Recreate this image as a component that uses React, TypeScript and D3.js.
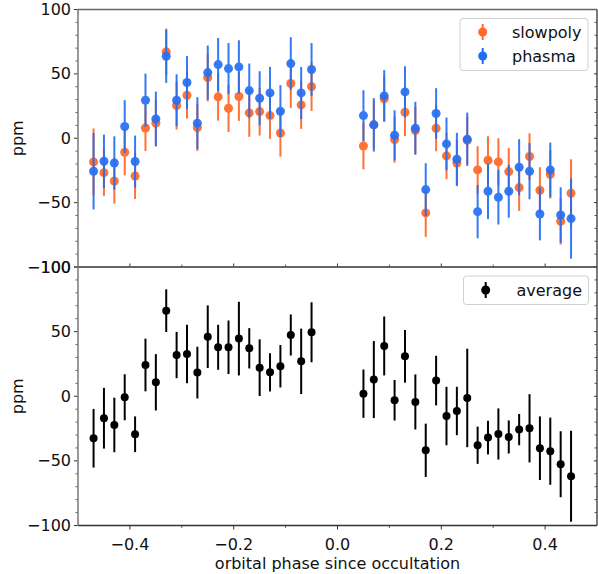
import React from 'react';
import * as d3 from 'd3';

// orbital phase of each bin
const phase = [
  -0.47, -0.45, -0.43, -0.41, -0.39, -0.37, -0.35, -0.33, -0.31, -0.29, -0.27,
  -0.25, -0.23, -0.21, -0.19, -0.17, -0.15, -0.13, -0.11, -0.09, -0.07, -0.05,
  0.05, 0.07, 0.09, 0.11, 0.13, 0.15, 0.17, 0.19, 0.21, 0.23, 0.25, 0.27, 0.29,
  0.31, 0.33, 0.35, 0.37, 0.39, 0.41, 0.43, 0.45,
];

const slowpoly = [
  -18.4, -26.7, -33.2, -10.9, -29.3, 8.0, 11.7, 67.1, 25.4, 33.4, 8.3, 47.1,
  32.1, 23.3, 32.4, 19.7, 20.7, 17.6, 4.1, 42.5, 25.9, 40.1,
  -6.0, 10.4, 30.6, -1.0, 20.2, 6.0, -58.0, 7.8, -13.7, -19.2, -1.6, -24.6,
  -17.1, -18.4, -25.9, -38.3, -14.2, -40.4, -28.0, -64.5, -42.7,
];
const slowpolyErr = [
  26, 18, 17.6, 17.9, 17.9, 17.9, 18, 18.1, 18.6, 18.1, 18.1, 18.4, 18.4, 18.4,
  18.9, 18.6, 18.6, 18.1, 18.4, 18.9, 18.6, 18.9,
  18.1, 18.5, 17.6, 17.9, 18.4, 18.5, 18.6, 17.9, 18.1, 18, 18.5, 18.4, 18.6,
  18.4, 18.4, 18.1, 18.1, 17.9, 18.9, 18.1, 26.4,
];

const phasma = [
  -25.6, -17.9, -19.2, 9.1, -18.1, 29.5, 15.0, 63.7, 29.5, 43.3, 11.7, 51.0,
  57.2, 54.1, 55.4, 37.0, 31.1, 35.2, 21.0, 58.0, 35.2, 53.4,
  17.6, 10.4, 32.9, 2.3, 36.0, 7.8, -39.9, 19.2, -4.4, -16.3, -0.8, -57.0,
  -41.2, -45.8, -41.2, -22.5, -25.6, -58.8, -24.6, -59.6, -62.4,
];
const phasmaErr = [
  29.7, 20.7, 20.7, 20.5, 20.2, 20.7, 21.2, 20.7, 20.2, 20.5, 20.2, 21, 20.7,
  19.9, 20.7, 21, 21, 20.2, 20.2, 20.5, 20.2, 20.5,
  19.7, 20.7, 20, 19.4, 19.9, 20.5, 20.5, 19.7, 20.5, 20.5, 20.7, 20.7, 21.5,
  21.2, 20.5, 21.8, 21.8, 20.5, 21.2, 21.5, 31.1,
];

const average = [
  -32.5, -17.0, -22.2, -0.8, -29.4, 24.2, 10.8, 66.2, 31.9, 32.7, 18.3, 46.1,
  37.9, 37.9, 44.6, 37.1, 22.1, 18.5, 23.2, 47.4, 27.0, 49.5,
  2.0, 12.9, 38.9, -3.1, 30.9, -4.4, -41.8, 12.1, -15.3, -11.4, -1.3, -37.9,
  -32.0, -29.2, -31.5, -25.8, -24.8, -40.2, -42.5, -52.6, -61.9,
];
const averageErr = [
  22.7, 23.5, 21.1, 17.8, 13.8, 20.4, 21.8, 16.5, 17.9, 22.6, 20, 24.2, 17.4,
  20.7, 28.5, 15.6, 21.9, 14.8, 16.4, 15.9, 25.3, 23.2,
  18.7, 29.8, 22.8, 15.7, 20.4, 21.3, 20.6, 19.2, 22.6, 18.7, 38.1, 14.4, 13.0,
  19.8, 12.8, 12.1, 26.4, 24.6, 26.0, 25.5, 35.2,
];

const xTicks = [-0.4, -0.2, 0.0, 0.2, 0.4];
const xMinor = [-0.3, -0.1, 0.1, 0.3];
const yTicks = [-100, -50, 0, 50, 100];
const yMinor = [-90, -80, -70, -60, -40, -30, -20, -10, 10, 20, 30, 40, 60, 70, 80, 90];

const W = 598;
const H = 574;
const left = 78;
const right = 597;
const font = 'DejaVu Sans, sans-serif';
const FS = 16;
const ORANGE = '#ff6a2a';
const BLUE = '#1f6cf5';

const x = d3.scaleLinear().domain([-0.5, 0.5]).range([left, right]);
const yTop = d3.scaleLinear().domain([-100, 100]).range([267, 9.5]);
const yBot = d3.scaleLinear().domain([-100, 100]).range([525.5, 267]);

const fmtY = (v: number) => (v < 0 ? '\u2212' + Math.abs(v) : String(v));
const fmtX = (v: number) => (v < 0 ? '\u2212' + Math.abs(v).toFixed(1) : v.toFixed(1));

function ErrorSeries({ y, vals, errs, color, r, opacity }: any) {
  return (
    <g opacity={opacity}>
      {vals.map((v: number, i: number) => (
        <g key={i}>
          <line
            x1={x(phase[i])}
            x2={x(phase[i])}
            y1={y(v - errs[i])}
            y2={y(v + errs[i])}
            stroke={color}
            strokeWidth={2}
          />
          <circle cx={x(phase[i])} cy={y(v)} r={r} fill={color} />
        </g>
      ))}
    </g>
  );
}

function Panel({ y, bottom }: any) {
  const [y0, y1] = y.range();
  return (
    <g>
      {/* y ticks left (outward) and right (inward) */}
      {yTicks.map((t) => (
        <g key={'yt' + t}>
          <line x1={left - 4} x2={left} y1={y(t)} y2={y(t)} stroke="#333" strokeWidth={1} />
          <line x1={right - 3} x2={right} y1={y(t)} y2={y(t)} stroke="#333" strokeWidth={1} />
          <text
            x={left - 7}
            y={y(t)}
            textAnchor="end"
            dominantBaseline="central"
            fontFamily={font}
            fontSize={FS}
            fill="#111"
          >
            {fmtY(t)}
          </text>
        </g>
      ))}
      {yMinor.map((t) => (
        <g key={'ym' + t}>
          <line x1={left - 2.5} x2={left} y1={y(t)} y2={y(t)} stroke="#333" strokeWidth={0.8} />
          <line x1={right - 2.5} x2={right} y1={y(t)} y2={y(t)} stroke="#333" strokeWidth={0.8} />
        </g>
      ))}
      {/* x ticks */}
      {xTicks.map((t) =>
        bottom ? (
          <g key={'xt' + t}>
            <line x1={x(t)} x2={x(t)} y1={y0} y2={y0 + 4} stroke="#333" strokeWidth={1} />
            <text
              x={x(t)}
              y={y0 + 19}
              textAnchor="middle"
              dominantBaseline="central"
              fontFamily={font}
              fontSize={FS}
              fill="#111"
            >
              {fmtX(t)}
            </text>
          </g>
        ) : (
          <line key={'xt' + t} x1={x(t)} x2={x(t)} y1={y0} y2={y0 - 3.5} stroke="#333" strokeWidth={1} />
        )
      )}
      {xMinor.map((t) => (
        <line
          key={'xm' + t}
          x1={x(t)}
          x2={x(t)}
          y1={y0}
          y2={bottom ? y0 + 2.5 : y0 - 2.5}
          stroke="#333"
          strokeWidth={0.8}
        />
      ))}
      {/* spines */}
      <line x1={left} x2={right} y1={y1} y2={y1} stroke="#666" strokeWidth={1.3} />
      <line x1={left} x2={right} y1={y0} y2={y0} stroke="#333" strokeWidth={1.3} />
      <line x1={right} x2={right} y1={y0} y2={y1} stroke="#333" strokeWidth={1.3} />
      <line x1={left} x2={left} y1={y0} y2={y1} stroke="#808080" strokeWidth={1.6} />
      <text
        transform={`translate(17,${(y0 + y1) / 2}) rotate(-90)`}
        textAnchor="middle"
        dominantBaseline="central"
        fontFamily={font}
        fontSize={FS}
        fill="#111"
      >
        ppm
      </text>
    </g>
  );
}

function LegendEntry({ cx, cy, color, label, tx }: any) {
  return (
    <g>
      <line x1={cx} x2={cx} y1={cy - 8} y2={cy + 8} stroke={color} strokeWidth={2} />
      <circle cx={cx} cy={cy} r={4.5} fill={color} />
      <text x={tx} y={cy} dominantBaseline="central" fontFamily={font} fontSize={FS} fill="#111">
        {label}
      </text>
    </g>
  );
}

export default function App() {
  return (
    <svg
      width={W}
      height={H}
      style={{ position: 'absolute', left: 0, top: 0, background: '#fff' }}
    >
      <rect width={W} height={H} fill="#fff" />

      {/* top panel: individual reductions */}
      <ErrorSeries y={yTop} vals={slowpoly} errs={slowpolyErr} color={ORANGE} r={4.5} opacity={0.95} />
      <ErrorSeries y={yTop} vals={phasma} errs={phasmaErr} color={BLUE} r={4.5} opacity={0.9} />
      <Panel y={yTop} bottom={false} />
      <g>
        <rect x={460} y={18.5} width={128} height={52} rx={3} fill="#fff" fillOpacity={0.8} stroke="#d0d0d0" />
        <LegendEntry cx={482.7} cy={32} color={ORANGE} label="slowpoly" tx={512} />
        <LegendEntry cx={482.7} cy={56} color={BLUE} label="phasma" tx={512} />
      </g>

      {/* bottom panel: average */}
      <ErrorSeries y={yBot} vals={average} errs={averageErr} color="#000" r={4} opacity={1} />
      <Panel y={yBot} bottom={true} />
      <g>
        <rect x={463.5} y={276} width={125} height={28.5} rx={3} fill="#fff" fillOpacity={0.8} stroke="#d0d0d0" />
        <LegendEntry cx={485.7} cy={290} color="#000" label="average" tx={516.5} />
      </g>

      <text
        x={(left + right) / 2}
        y={563}
        textAnchor="middle"
        dominantBaseline="central"
        fontFamily={font}
        fontSize={FS}
        fill="#111"
      >
        orbital phase since occultation
      </text>
    </svg>
  );
}
